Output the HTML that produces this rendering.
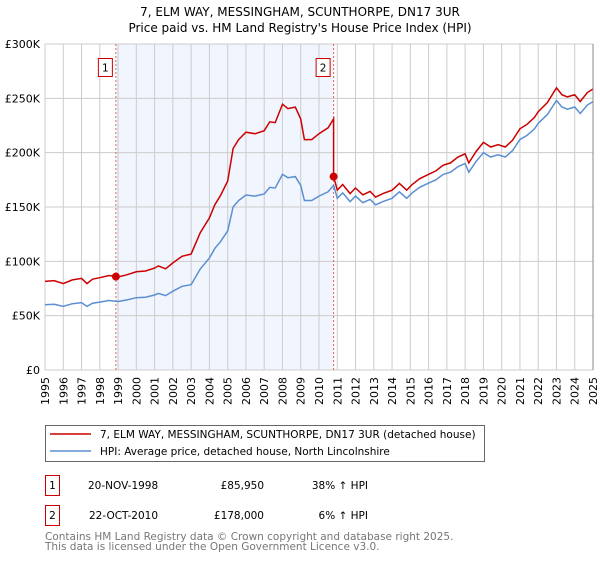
<!DOCTYPE html>
<html><head><meta charset="utf-8"><style>
body{margin:0;background:#fff;font-family:"DejaVu Sans","Liberation Sans",sans-serif;}
svg text{font-family:"DejaVu Sans","Liberation Sans",sans-serif;}
</style></head><body>
<svg id="chart" width="600" height="560" xmlns="http://www.w3.org/2000/svg">
<text x="300" y="16" text-anchor="middle" font-size="12">7, ELM WAY, MESSINGHAM, SCUNTHORPE, DN17 3UR</text>
<text x="300" y="32" text-anchor="middle" font-size="12">Price paid vs. HM Land Registry's House Price Index (HPI)</text>
<g id="plot"></g>
<g>
<rect x="45.5" y="425.5" width="439" height="36" fill="#fff" stroke="#666"/>
<line x1="50" y1="434" x2="91" y2="434" stroke="#cc0000" stroke-width="1.5"/>
<text x="100" y="438" font-size="10.5">7, ELM WAY, MESSINGHAM, SCUNTHORPE, DN17 3UR (detached house)</text>
<line x1="50" y1="451" x2="91" y2="451" stroke="#5b8fd1" stroke-width="1.5"/>
<text x="100" y="455" font-size="10.5">HPI: Average price, detached house, North Lincolnshire</text>
</g>
<g font-size="10.5">
<rect x="45.5" y="475.5" width="14" height="20" fill="#fff" stroke="#cc0000"/>
<text x="52.5" y="489" text-anchor="middle">1</text>
<text x="88" y="489">20-NOV-1998</text>
<text x="264" y="489" text-anchor="end">£85,950</text>
<text x="368" y="489" text-anchor="end">38% ↑ HPI</text>
<rect x="45.5" y="505.5" width="14" height="20" fill="#fff" stroke="#cc0000"/>
<text x="52.5" y="519" text-anchor="middle">2</text>
<text x="89" y="519">22-OCT-2010</text>
<text x="264" y="519" text-anchor="end">£178,000</text>
<text x="368" y="519" text-anchor="end">6% ↑ HPI</text>
</g>
<text x="45" y="540" font-size="10.5" fill="#777">Contains HM Land Registry data © Crown copyright and database right 2025.</text>
<text x="45" y="550" font-size="10.5" fill="#777">This data is licensed under the Open Government Licence v3.0.</text>
</svg>
<script>
const yearTicks=[1995,1996,1997,1998,1999,2000,2001,2002,2003,2004,2005,2006,2007,2008,2009,2010,2011,2012,2013,2014,2015,2016,2017,2018,2019,2020,2021,2022,2023,2024,2025];
const valueTicks=[0,50000,100000,150000,200000,250000,300000];
const valueLabels=["£0","£50K","£100K","£150K","£200K","£250K","£300K"];
const hpiDates=[1995,1995.5,1996,1996.5,1997,1997.3,1997.6,1998,1998.5,1999,1999.5,2000,2000.5,2001,2001.2,2001.6,2002,2002.5,2003,2003.5,2004,2004.3,2004.6,2005,2005.3,2005.6,2006,2006.5,2007,2007.3,2007.6,2008,2008.3,2008.7,2009,2009.2,2009.6,2010,2010.5,2010.8,2011,2011.3,2011.7,2012,2012.4,2012.8,2013.1,2013.5,2014,2014.4,2014.8,2015.1,2015.5,2016,2016.4,2016.8,2017.2,2017.6,2018,2018.2,2018.6,2019,2019.4,2019.8,2020.2,2020.6,2021,2021.4,2021.8,2022,2022.5,2023,2023.3,2023.6,2024,2024.3,2024.7,2025];
const hpiValues=[60000,60500,58500,61000,62000,58500,61500,62500,64000,63000,64500,66500,67000,69000,70500,68500,72500,77000,78500,93000,103000,112000,118000,128000,150000,156000,161000,160000,162000,168000,167500,180000,177000,178000,170000,156000,156000,160000,164000,170000,158000,163000,155000,160000,154000,157000,152000,155000,158000,164000,158000,163000,168000,172000,175000,180000,182000,187000,190000,182000,192000,200000,196000,198000,196000,202000,212000,216000,222000,227000,235000,248000,242000,240000,242000,236000,244000,247000];
const saleDates=[1998.88,2010.8];
const salePrices=[85950,178000];
const saleLabels=["1","2"];
const X0=45,X1=593,Y0=370,Y1=44;
const xs=d=>X0+(d-1995)/(2025-1995)*(X1-X0);
const ys=v=>Y0-v/300000*(Y0-Y1);
const NS="http://www.w3.org/2000/svg";
const plot=document.getElementById('plot');
function mk(tag,attrs){const e=document.createElementNS(NS,tag);for(const k in attrs)e.setAttribute(k,attrs[k]);return e;}
function hpiAt(d){for(let i=1;i<hpiDates.length;i++){if(d<=hpiDates[i]){const t=(d-hpiDates[i-1])/(hpiDates[i]-hpiDates[i-1]);return hpiValues[i-1]+t*(hpiValues[i]-hpiValues[i-1]);}}return hpiValues[hpiValues.length-1];}
const shade=mk('rect',{x:xs(saleDates[0]),y:Y1,width:xs(saleDates[1])-xs(saleDates[0]),height:Y0-Y1,fill:'#eef3fc',opacity:0.8});


plot.appendChild(shade);
yearTicks.forEach(y=>{
 const l=mk('line',{x1:xs(y),x2:xs(y),y1:Y1,y2:Y0,stroke:'#ccc','stroke-width':1});
 
 
 plot.appendChild(l);
 const g=mk('g',{transform:'translate('+(xs(y)+4).toFixed(1)+','+(Y0+7)+') rotate(-90)'});
 const t=mk('text',{x:0,y:0,'font-size':11,'text-anchor':'end'});
 t.textContent=y;
 
 
 g.appendChild(t);
 plot.appendChild(g);
});
valueTicks.forEach((v,i)=>{
 const l=mk('line',{x1:X0,x2:X1,y1:ys(v),y2:ys(v),stroke:'#ccc','stroke-width':1});
 
 
 plot.appendChild(l);
 const t=mk('text',{x:X0-5,y:ys(v)+4,'font-size':11,'text-anchor':'end'});
 t.textContent=valueLabels[i];
 
 
 plot.appendChild(t);
});
saleDates.forEach((d,i)=>{
 const l=mk('line',{x1:xs(d),x2:xs(d),y1:Y1,y2:Y0,stroke:'#e06060','stroke-width':1,'stroke-dasharray':'2,2'});
 
 
 plot.appendChild(l);
 const r=mk('rect',{x:xs(d)-17.5,y:58.5,width:14,height:18,fill:'#fff',stroke:'#cc0000'});
 
 
 plot.appendChild(r);
 const t=mk('text',{x:xs(d)-10.5,y:71.5,'font-size':10.5,'text-anchor':'middle'});
 t.textContent=saleLabels[i];
 
 
 plot.appendChild(t);
});
let hp=hpiDates.map((d,i)=>`${i?'L':'M'}${xs(d).toFixed(1)},${ys(hpiValues[i]).toFixed(1)}`).join('');
const hl=mk('path',{d:hp,fill:'none',stroke:'#5b8fd1','stroke-width':1.5});


plot.appendChild(hl);
const r1=salePrices[0]/hpiAt(saleDates[0]), r2=salePrices[1]/hpiAt(saleDates[1]);
let pts=[];
hpiDates.forEach((d,i)=>{ if(d<saleDates[1]) pts.push([d,hpiValues[i]*r1]); });
pts.push([saleDates[1],hpiAt(saleDates[1])*r1]);
pts.push([saleDates[1],salePrices[1]]);
hpiDates.forEach((d,i)=>{ if(d>saleDates[1]) pts.push([d,hpiValues[i]*r2]); });
const pl=mk('path',{d:pts.map((p,i)=>`${i?'L':'M'}${xs(p[0]).toFixed(1)},${ys(p[1]).toFixed(1)}`).join(''),fill:'none',stroke:'#cc0000','stroke-width':1.5});


plot.appendChild(pl);
saleDates.forEach((d,i)=>{
 const c=mk('circle',{cx:xs(d),cy:ys(salePrices[i]),r:4,fill:'#cc0000'});
 
 
 plot.appendChild(c);
});
const ax=mk('line',{x1:X1,x2:X1,y1:Y1,y2:Y0,stroke:'#888','stroke-width':1});


plot.appendChild(ax);
</script>
</body></html>
